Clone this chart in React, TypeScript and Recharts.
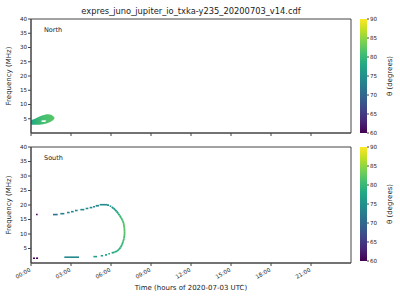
import { ComposedChart, Area, XAxis, YAxis, ReferenceArea, ReferenceLine } from 'recharts';

const TITLE = 'expres_juno_jupiter_io_txka-y235_20200703_v14.cdf';
const X_LABEL = 'Time (hours of 2020-07-03 UTC)';
const Y_LABEL = 'Frequency (MHz)';
const CB_LABEL = 'θ (degrees)';

const HOUR_TICKS = [0, 3, 6, 9, 12, 15, 18, 21];
const FREQ_TICKS = [5, 10, 15, 20, 25, 30, 35, 40];
const THETA_TICKS = [60, 65, 70, 75, 80, 85, 90];

// North hemisphere: one blob near the start of the day (time h, low/high MHz), with a small gap inside
const northTime = [0, 0.3, 0.6, 0.75, 0.9, 1.05, 1.15, 1.3, 1.5, 1.65, 1.75];
const northLow = [2.9, 2.9, 2.9, 3.0, 3.1, 3.25, 3.35, 3.6, 4.0, 4.5, 5.0];
const northHigh = [4.5, 5.0, 5.7, 5.95, 6.2, 6.4, 6.55, 6.6, 6.4, 6.0, 5.5];
const northGapLow = [null, null, null, 4.1, 3.85, 3.9, 4.2, null, null, null, null];
const northGapHigh = [null, null, null, 4.2, 4.5, 4.5, 4.3, null, null, null, null];
const northTheta = [78, 81, 82]; // left -> right

// South hemisphere: short emission dashes [t start, t end, f start, f end, theta]
const southDashes: number[][] = [
  [0.15, 0.3, 1.65, 1.65, 60],
  [0.38, 0.53, 1.65, 1.65, 60],
  [0.38, 0.5, 16.7, 16.7, 60],
  [1.65, 2.0, 16.7, 16.7, 71],
  [2.2, 2.5, 17.0, 17.0, 73],
  [2.7, 2.9, 17.4, 17.4, 74],
  [3.0, 3.2, 17.7, 17.7, 74],
  [3.3, 3.5, 18.1, 18.1, 74],
  [3.7, 4.0, 18.4, 18.4, 74],
  [4.1, 4.3, 18.8, 18.8, 74],
  [4.4, 4.6, 19.1, 19.1, 74],
  [4.65, 4.8, 19.4, 19.4, 74],
  [4.85, 5.1, 19.7, 19.8, 74],
  [5.15, 5.7, 20.1, 20.1, 74],
  [5.7, 5.85, 19.95, 19.95, 75],
  [5.9, 6.02, 19.6, 19.6, 75],
  [2.5, 3.6, 2.0, 2.0, 74],
  [4.68, 4.95, 2.2, 2.2, 77],
  [5.23, 5.4, 2.5, 2.5, 77],
  [5.55, 5.7, 2.8, 2.8, 78],
  [5.8, 5.92, 3.2, 3.2, 78],
];

// South hemisphere: continuous right-hand arc [t, f, theta]
const southArc: number[][] = [
  [6.05, 19.3, 75],
  [6.18, 18.9, 76],
  [6.3, 18.4, 76],
  [6.42, 17.8, 77],
  [6.54, 17.1, 78],
  [6.65, 16.4, 79],
  [6.76, 15.6, 80],
  [6.86, 14.7, 81],
  [6.94, 13.8, 81],
  [6.99, 12.4, 82],
  [7.02, 11.0, 82],
  [7.01, 9.6, 82],
  [6.97, 8.4, 81],
  [6.9, 7.3, 81],
  [6.82, 6.3, 80],
  [6.72, 5.4, 80],
  [6.6, 4.7, 79],
  [6.45, 4.1, 79],
  [6.25, 3.7, 79],
  [6.05, 3.5, 78],
];

const VIRIDIS = ['#440154', '#482475', '#414487', '#355f8d', '#2a788e', '#21918c', '#22a884', '#44bf70', '#7ad151', '#bddf26', '#fde725'];

function viridis(theta: number) {
  const v = Math.min(1, Math.max(0, (theta - 60) / 30)) * (VIRIDIS.length - 1);
  const i = Math.min(VIRIDIS.length - 2, Math.floor(v));
  const f = v - i;
  const a = VIRIDIS[i];
  const b = VIRIDIS[i + 1];
  const mix = (k: number) => {
    const ca = parseInt(a.slice(k, k + 2), 16);
    const cb = parseInt(b.slice(k, k + 2), 16);
    return Math.round(ca + (cb - ca) * f).toString(16).padStart(2, '0');
  };
  return `#${mix(1)}${mix(3)}${mix(5)}`;
}

const FONT = 'DejaVu Sans, sans-serif';
const INK = '#222';
const AXIS = '#444';
const TICK_FS = 5.6;
const LABEL_FS = 7;

const northData = northTime.map((t, i) => ({
  t,
  band: [northLow[i], northHigh[i]],
  gap: northGapLow[i] == null ? null : [northGapLow[i], northGapHigh[i]],
}));

const southData = southArc.map(([t, f]) => ({ t, f }));
const cbData = [
  { x: 0, theta: THETA_TICKS[0] },
  { x: 1, theta: THETA_TICKS[THETA_TICKS.length - 1] },
];

const hh = (v: number) => `${String(v).padStart(2, '0')}:00`;

function TimeTick({ x, y, payload }: any) {
  return (
    <text
      x={x}
      y={y + 3}
      transform={`rotate(-30 ${x} ${y + 3})`}
      textAnchor="end"
      fontSize={TICK_FS}
      fill={INK}
      fontFamily={FONT}
    >
      {hh(payload.value)}
    </text>
  );
}

const tickStyle = { fontSize: TICK_FS, fill: INK, fontFamily: FONT };

const yLabel = {
  value: Y_LABEL,
  angle: -90,
  position: 'insideLeft' as const,
  offset: 9,
  style: { textAnchor: 'middle', fontSize: LABEL_FS, fill: INK, fontFamily: FONT },
};

function Frame() {
  return <ReferenceArea x1={0} x2={24} y1={0} y2={40} fill="none" stroke={AXIS} strokeWidth={1} ifOverflow="visible" />;
}

function ColorBar({ id }: { id: string }) {
  return (
    <ComposedChart width={45} height={140} data={cbData} margin={{ top: 19, right: 0, bottom: 7, left: 5 }}>
      <defs>
        <linearGradient id={id} x1="0" y1="1" x2="0" y2="0">
          {VIRIDIS.map((c, i) => (
            <stop key={c} offset={i / (VIRIDIS.length - 1)} stopColor={c} />
          ))}
        </linearGradient>
      </defs>
      <XAxis type="number" dataKey="x" domain={[0, 1]} hide />
      <YAxis
        orientation="right"
        type="number"
        dataKey="theta"
        domain={[60, 90]}
        ticks={THETA_TICKS}
        interval={0}
        width={33}
        axisLine={false}
        tickLine={{ stroke: AXIS }}
        tickSize={2}
        tickMargin={1}
        tick={tickStyle}
        label={{
          value: CB_LABEL,
          angle: -90,
          position: 'insideRight',
          offset: 10,
          style: { textAnchor: 'middle', fontSize: LABEL_FS, fill: INK, fontFamily: FONT },
        }}
      />
      <ReferenceArea x1={0} x2={1} y1={60} y2={90} fill={`url(#${id})`} fillOpacity={1} stroke="none" />
    </ComposedChart>
  );
}

export default function App() {
  return (
    <div style={{ position: 'fixed', left: 0, top: 0, width: 400, height: 300, background: '#fff', fontFamily: FONT }}>
      <div style={{ position: 'absolute', left: 0, top: 6, width: 382, textAlign: 'center', fontSize: 8.3, lineHeight: '10px', color: INK }}>
        {TITLE}
      </div>

      {/* North */}
      <div style={{ position: 'absolute', left: 0, top: 0 }}>
        <ComposedChart width={355} height={140} data={northData} margin={{ top: 19, right: 4, bottom: 0, left: 0 }}>
          <defs>
            <linearGradient id="northFill" x1="0" y1="0" x2="1" y2="0">
              {northTheta.map((th, i) => (
                <stop key={i} offset={i / (northTheta.length - 1)} stopColor={viridis(th)} />
              ))}
            </linearGradient>
          </defs>
          <XAxis
            type="number"
            dataKey="t"
            domain={[0, 24]}
            ticks={HOUR_TICKS}
            interval={0}
            height={7}
            tickSize={3}
            tickFormatter={() => ''}
            stroke={AXIS}
          />
          <YAxis
            type="number"
            domain={[0, 40]}
            ticks={FREQ_TICKS}
            interval={0}
            width={31}
            tickSize={3}
            tickMargin={1}
            stroke={AXIS}
            tick={tickStyle}
            label={yLabel}
          />
          <Area type="monotone" dataKey="band" stroke="none" fill="url(#northFill)" fillOpacity={1} isAnimationActive={false} />
          <Area type="monotone" dataKey="gap" stroke="none" fill="#fff" fillOpacity={1} isAnimationActive={false} />
          {Frame()}
        </ComposedChart>
      </div>
      <div style={{ position: 'absolute', left: 44, top: 26, fontSize: 6.5, color: INK }}>North</div>
      <div style={{ position: 'absolute', left: 355, top: 0 }}>
        <ColorBar id="cbNorth" />
      </div>

      {/* South */}
      <div style={{ position: 'absolute', left: 0, top: 128 }}>
        <ComposedChart width={355} height={172} data={southData} margin={{ top: 19, right: 4, bottom: 0, left: 0 }}>
          <XAxis
            type="number"
            dataKey="t"
            domain={[0, 24]}
            ticks={HOUR_TICKS}
            interval={0}
            height={37}
            tickSize={3}
            stroke={AXIS}
            tick={<TimeTick />}
            label={{ value: X_LABEL, position: 'insideBottom', offset: 10, style: { fontSize: LABEL_FS, fill: INK, fontFamily: FONT } }}
          />
          <YAxis
            type="number"
            dataKey="f"
            domain={[0, 40]}
            ticks={FREQ_TICKS}
            interval={0}
            width={31}
            tickSize={3}
            tickMargin={1}
            stroke={AXIS}
            tick={tickStyle}
            label={yLabel}
          />
          {southDashes.map(([t0, t1, f0, f1, th], i) => (
            <ReferenceLine
              key={`d${i}`}
              segment={[{ x: t0, y: f0 }, { x: t1, y: f1 }]}
              stroke={viridis(th)}
              strokeWidth={1.6}
            />
          ))}
          {southArc.slice(1).map(([t, f, th], i) => (
            <ReferenceLine
              key={`a${i}`}
              segment={[{ x: southArc[i][0], y: southArc[i][1] }, { x: t, y: f }]}
              stroke={viridis(th)}
              strokeWidth={1.8}
            />
          ))}
          {Frame()}
        </ComposedChart>
      </div>
      <div style={{ position: 'absolute', left: 44, top: 154, fontSize: 6.5, color: INK }}>South</div>
      <div style={{ position: 'absolute', left: 355, top: 128 }}>
        <ColorBar id="cbSouth" />
      </div>
    </div>
  );
}
